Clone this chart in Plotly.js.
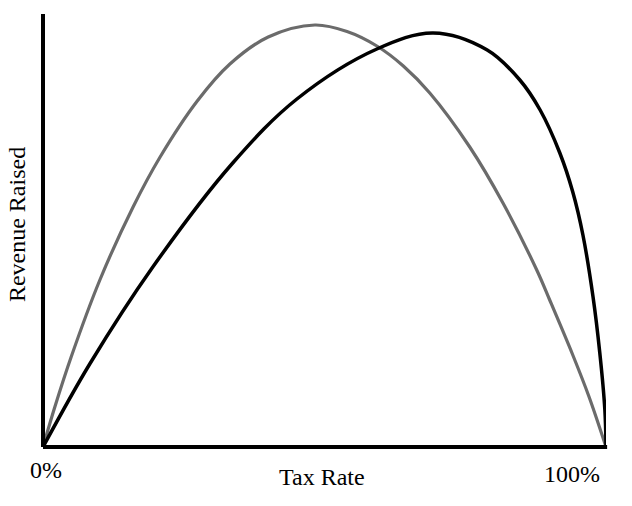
<!DOCTYPE html>
<html>
<head>
<meta charset="utf-8">
<script src="https://cdn.plot.ly/plotly-3.0.1.min.js"></script>
<style>html,body{margin:0;padding:0;background:#fff;}#chart{width:632px;height:506px;}</style>
</head>
<body>
<div id="chart"></div>
<script>
// Tax rate (%) and revenue raised (arbitrary units)
const grayRate    = [0, 2.1, 5, 10.1, 16, 20.8, 27.4, 33.2, 40, 48.3, 54, 59.3, 64, 68.7, 75.8, 81.7, 87.7, 90, 94.1, 97, 100];
const grayRevenue = [0, 40, 90, 167, 240, 290, 346, 383, 410, 422, 415.5, 401, 381, 354, 300, 244, 177, 147, 92, 50, 0];

const blackRate    = [0, 8.3, 19.5, 33.7, 45.1, 59.3, 69.3, 78.9, 84.7, 88.3, 91.8, 94.1, 95.9, 97.7, 98.9, 99.8, 100];
const blackRevenue = [0, 83, 180, 284, 348, 398, 414, 397, 367, 337, 294, 255, 212, 150, 94, 37, 0];

const xLabels = ['0%', '100%'];
const xTitle = 'Tax Rate';
const yTitle = 'Revenue Raised';

const font = {family: '"Liberation Serif", "Times New Roman", serif', size: 24, color: '#000'};

const traces = [
  {x: grayRate, y: grayRevenue, mode: 'lines', line: {color: '#6b6b6b', width: 3.2, shape: 'spline', smoothing: 1}, hoverinfo: 'skip'},
  {x: blackRate, y: blackRevenue, mode: 'lines', line: {color: '#000', width: 3.5, shape: 'spline', smoothing: 1}, hoverinfo: 'skip'}
];

const layout = {
  width: 632, height: 506,
  margin: {l: 43, r: 26, t: 14, b: 59},
  paper_bgcolor: '#fff', plot_bgcolor: '#fff',
  showlegend: false,
  xaxis: {range: [0, 100], showgrid: false, zeroline: false, showticklabels: false, ticks: '', showline: false},
  yaxis: {range: [0, 433], showgrid: false, zeroline: false, showticklabels: false, ticks: '', showline: false},
  shapes: [
    {type: 'line', xref: 'paper', yref: 'paper', x0: 0, x1: 0, y0: 0, y1: 1, line: {color: '#000', width: 4}},
    {type: 'line', xref: 'paper', yref: 'paper', x0: 0, x1: 1.002, y0: 0, y1: 0, line: {color: '#000', width: 4}}
  ],
  annotations: [
    {text: xLabels[0], xref: 'x', yref: 'paper', x: 0.5, y: -0.053, xanchor: 'center', yanchor: 'middle', showarrow: false, font: font},
    {text: xLabels[1], xref: 'x', yref: 'paper', x: 94.0, y: -0.062, xanchor: 'center', yanchor: 'middle', showarrow: false, font: font},
    {text: xTitle, xref: 'x', yref: 'paper', x: 49.5, y: -0.069, xanchor: 'center', yanchor: 'middle', showarrow: false, font: font},
    {text: yTitle, xref: 'paper', yref: 'paper', x: -0.045, y: 0.514, xanchor: 'center', yanchor: 'middle', textangle: -90, showarrow: false, font: font}
  ]
};

Plotly.newPlot('chart', traces, layout, {staticPlot: true, displayModeBar: false});
</script>
</body>
</html>
